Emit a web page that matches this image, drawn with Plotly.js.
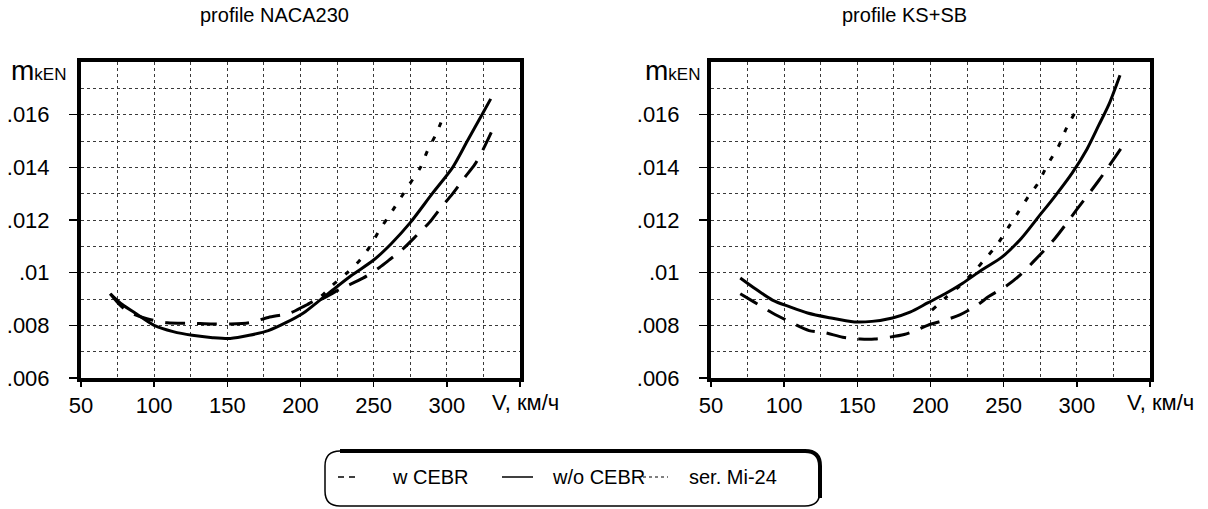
<!DOCTYPE html>
<html>
<head>
<meta charset="utf-8">
<script src="https://cdn.plot.ly/plotly-3.0.1.min.js"></script>
<style>html,body{margin:0;padding:0;background:#fff;}#chart{width:1208px;height:509px;}</style>
</head>
<body>
<div id="chart"></div>
<script>
// ---- data ----
// Left panel: profile NACA230
const naca_wo_V = [70, 78, 88, 100, 113, 126, 140, 152, 165, 178, 190, 202, 212, 222, 235, 250, 262, 275, 290, 304, 314, 324, 330];
const naca_wo_m = [.0092, .0088, .00843, .0080, .00776, .00762, .00753, .0075, .00762, .0078, .0081, .00847, .0089, .00934, .0099, .01048, .0111, .0119, .0130, .0140, .0150, .0160, .0166];
const naca_w_V  = [70, 78, 85, 95, 109, 125, 140, 152, 165, 178, 193, 205, 213, 228, 243, 254, 261, 270, 280, 288, 295, 304, 312, 319, 325, 331];
const naca_w_m  = [.0092, .0087, .00845, .00825, .0081, .00808, .00805, .00805, .0081, .0083, .00847, .0088, .00896, .0094, .0098, .0102, .0105, .0109, .01145, .0119, .0124, .0130, .0136, .0141, .0147, .0154];
const naca_mi_V = [205, 214, 222, 232, 241, 247.5, 254, 261, 268, 275, 282, 287, 293, 298];
const naca_mi_m = [.0088, .0091, .00953, .0100, .0105, .0110, .01162, .0122, .0128, .0134, .0140, .01466, .0153, .0160];

// Right panel: profile KS+SB
const ks_wo_V = [70, 80, 92, 104, 116, 130, 148, 160, 174, 186, 198, 210, 222, 235, 249, 262, 273.5, 285, 297, 307, 315, 322, 329.5];
const ks_wo_m = [.0098, .0094, .00896, .0087, .00847, .0083, .00813, .00815, .00828, .0085, .00885, .0092, .0096, .0101, .0106, .0113, .0121, .0129, .0138, .0147, .0156, .0164, .0175];
const ks_w_V  = [70, 79, 92, 105, 117, 128, 140, 152, 162, 172, 182, 190, 198, 210, 220, 232, 240, 252, 260, 270, 285, 300, 315, 330];
const ks_w_m  = [.0092, .0089, .00847, .0081, .0078, .00772, .00755, .00748, .00748, .00755, .00765, .0078, .0080, .0082, .0084, .00877, .0091, .0095, .00985, .0104, .0113, .0124, .0135, .0147];
const ks_mi_V = [201, 211, 220, 229, 238.6, 246, 253, 260, 267, 273.5, 280, 287.5, 293, 299];
const ks_mi_m = [.00858, .00908, .0095, .0100, .0106, .0111, .0117, .0123, .0129, .0134, .0141, .0148, .0155, .0161];

// axis ticks / labels
const xTickVals = [50, 100, 150, 200, 250, 300, 350];
const xTickText = ['50', '100', '150', '200', '250', '300', ''];
const yTickVals = [.006, .008, .010, .012, .014, .016];
const yTickText = ['.006', '.008', '.01', '.012', '.014', '.016'];
const panelTitles = ['profile NACA230', 'profile KS+SB'];
const seriesNames = ['w CEBR', 'w/o CEBR', 'ser. Mi-24'];
const xAxisLabel = 'V, км/ч';

// ---- drawing ----
const W = 1208, H = 509;
const px = x => x / W;
const py = y => 1 - y / H;
const FONT = 'Liberation Sans, Arial, sans-serif';

const dashStyle = '20px,12px';
const dotStyle = '5px,11px';

function tr(V, m, xa, ya, dash, name) {
  return {x: V, y: m, xaxis: xa, yaxis: ya, type: 'scatter', mode: 'lines', name: name,
    showlegend: false, line: {color: '#000', width: 3, dash: dash, shape: 'spline', smoothing: 0.8}, hoverinfo: 'skip'};
}

const data = [
  tr(naca_mi_V, naca_mi_m, 'x', 'y', dotStyle, seriesNames[2]),
  tr(naca_w_V, naca_w_m, 'x', 'y', dashStyle, seriesNames[0]),
  tr(naca_wo_V, naca_wo_m, 'x', 'y', 'solid', seriesNames[1]),
  tr(ks_mi_V, ks_mi_m, 'x2', 'y2', dotStyle, seriesNames[2]),
  tr(ks_w_V, ks_w_m, 'x2', 'y2', dashStyle, seriesNames[0]),
  tr(ks_wo_V, ks_wo_m, 'x2', 'y2', 'solid', seriesNames[1])
];

const gridCol = '#3a3a3a';
function xax(domain) {
  return {domain: domain, range: [50, 350], tickmode: 'array', tickvals: xTickVals, ticktext: xTickText,
    ticks: 'outside', ticklen: 5, tickwidth: 1.5, tickcolor: '#000', ticklabelstandoff: 0,
    showline: true, linewidth: 4, linecolor: '#000', mirror: true, zeroline: false,
    showgrid: true, gridcolor: gridCol, griddash: 'dot', gridwidth: 1,
    minor: {tickmode: 'linear', tick0: 50, dtick: 25, showgrid: true, gridcolor: gridCol, griddash: 'dot', gridwidth: 1, ticks: ''},
    tickfont: {family: FONT, size: 22, color: '#000'}, fixedrange: true};
}
function yax(anchor) {
  return {domain: [py(378), py(62)], range: [.006, .018], anchor: anchor, tickmode: 'array', tickvals: yTickVals, ticktext: yTickText,
    ticks: 'outside', ticklen: 8, tickwidth: 1.5, tickcolor: '#000', ticklabelstandoff: 15,
    showline: true, linewidth: 4, linecolor: '#000', mirror: true, zeroline: false,
    showgrid: true, gridcolor: gridCol, griddash: 'dot', gridwidth: 1,
    minor: {tickmode: 'linear', tick0: .006, dtick: .001, showgrid: true, gridcolor: gridCol, griddash: 'dot', gridwidth: 1, ticks: ''},
    tickfont: {family: FONT, size: 22, color: '#000'}, fixedrange: true};
}

const xa1 = xax([px(81), px(520)]); xa1.anchor = 'y';
const xa2 = xax([px(711), px(1150)]); xa2.anchor = 'y2';

function ann(text, x, y, xanchor, size) {
  return {text: text, x: px(x), y: py(y), xref: 'paper', yref: 'paper', xanchor: xanchor, yanchor: 'middle',
    showarrow: false, font: {family: FONT, size: size, color: '#000'}};
}
const mLabel = 'm<span style="font-size:17px">kEN</span>';

// legend frame and keys
const L = 325, R = 820, T = 451, B = 506, r = 15;
const framePath = `M ${px(L + r)},${py(T)} L ${px(R - r)},${py(T)} Q ${px(R)},${py(T)} ${px(R)},${py(T + r)} L ${px(R)},${py(B - r)} Q ${px(R)},${py(B)} ${px(R - r)},${py(B)} L ${px(L + r)},${py(B)} Q ${px(L)},${py(B)} ${px(L)},${py(B - r)} L ${px(L)},${py(T + r)} Q ${px(L)},${py(T)} ${px(L + r)},${py(T)} Z`;
const thickPath = `M ${px(L + r)},${py(T)} L ${px(R - r)},${py(T)} Q ${px(R)},${py(T)} ${px(R)},${py(T + r)} L ${px(R)},${py(B - 8)}`;
const legY = 477;
function keyLine(x0, x1, dash, w) {
  return {type: 'line', xref: 'paper', yref: 'paper', x0: px(x0), x1: px(x1), y0: py(legY), y1: py(legY),
    line: {color: '#000', width: w, dash: dash}};
}

const layout = {
  width: W, height: H, margin: {l: 0, r: 0, t: 0, b: 0},
  paper_bgcolor: '#fff', plot_bgcolor: '#fff', showlegend: false,
  font: {family: FONT, color: '#000'},
  xaxis: xa1, yaxis: yax('x'), xaxis2: xa2, yaxis2: yax('x2'),
  annotations: [
    ann(panelTitles[0], 274, 15, 'center', 20),
    ann(panelTitles[1], 904, 15, 'center', 20),
    ann(mLabel, 68, 71, 'right', 28),
    ann(mLabel, 702, 71, 'right', 28),
    ann(xAxisLabel, 490, 402, 'left', 22),
    ann(xAxisLabel, 1125, 402, 'left', 22),
    ann(seriesNames[0], 390, legY, 'left', 20),
    ann(seriesNames[1], 550, legY, 'left', 20),
    ann(seriesNames[2], 687, legY, 'left', 20)
  ],
  shapes: [
    {type: 'path', xref: 'paper', yref: 'paper', path: framePath, line: {color: '#000', width: 1.5}},
    {type: 'path', xref: 'paper', yref: 'paper', path: thickPath, line: {color: '#000', width: 4}},
    keyLine(338, 357, '6px,5px', 1.5),
    keyLine(502, 533, 'solid', 1.5),
    keyLine(637, 668, 'dot', 1)
  ]
};

Plotly.newPlot('chart', data, layout, {staticPlot: true, displayModeBar: false});
</script>
</body>
</html>
